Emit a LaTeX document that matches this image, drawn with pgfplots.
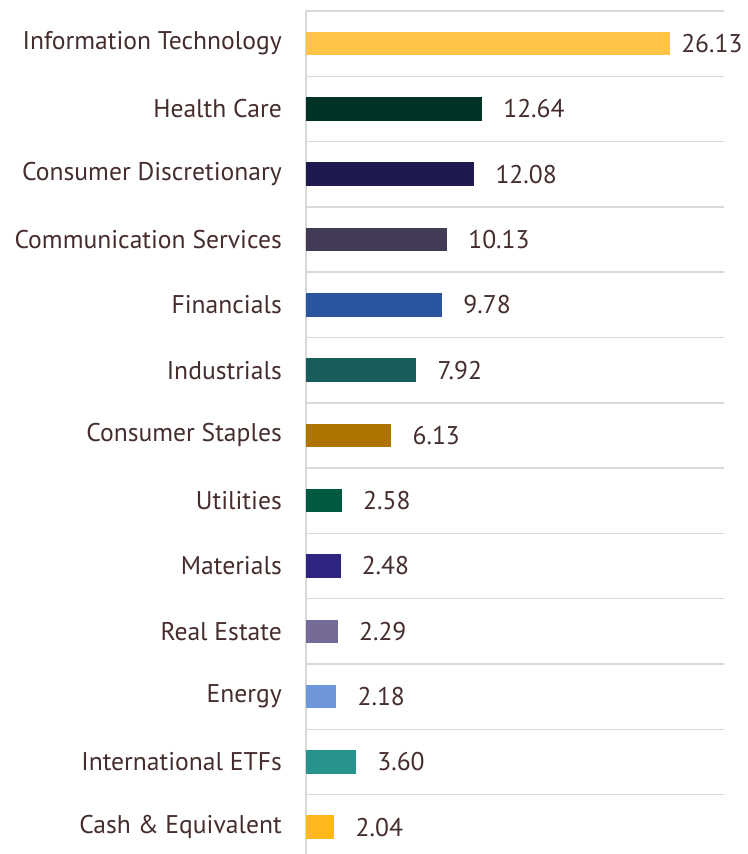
\documentclass[border=0pt]{standalone}
\usepackage{fontspec}
\setmainfont{PT Sans}
\usepackage{pgfplots}
\pgfplotsset{compat=1.18}

\definecolor{txt}{HTML}{462D2D}
\definecolor{gridgray}{HTML}{D9D9D9}
\definecolor{cIT}{HTML}{FFC447}
\definecolor{cHC}{HTML}{003327}
\definecolor{cCD}{HTML}{1E1A4D}
\definecolor{cCS}{HTML}{433A55}
\definecolor{cFin}{HTML}{2B559E}
\definecolor{cInd}{HTML}{1A5C5A}
\definecolor{cCSt}{HTML}{AD7400}
\definecolor{cUt}{HTML}{005941}
\definecolor{cMat}{HTML}{2E2580}
\definecolor{cRE}{HTML}{766A96}
\definecolor{cEn}{HTML}{6D96DB}
\definecolor{cETF}{HTML}{26948D}
\definecolor{cCash}{HTML}{FFB81C}

\newcommand{\lblfont}{\fontsize{25.6}{30}\selectfont}

\pgfplotsset{
  sectorbar/.style={
    fill=#1, draw=none,
    nodes near coords={\pgfmathprintnumber[fixed,zerofill,precision=2,assume math mode=true]{\pgfplotspointmeta}},
    nodes near coords style={anchor=west, inner sep=0pt, xshift=21pt, font=\lblfont, text=txt},
  },
}

\begin{document}
\begin{tikzpicture}
\begin{axis}[
  scale only axis,
  width=418pt, height=843pt,
  xbar, bar width=23.5pt, bar shift=0pt,
  xmin=0, xmax=30,
  ymin=-0.41, ymax=12.5,
  axis x line=none,
  axis y line*=left,
  y axis line style={draw=gridgray, line width=2pt, -},
  point meta=x,
  ytick={0,...,12},
  yticklabels={Cash \& Equivalent, International ETFs, Energy, Real Estate, Materials, Utilities, Consumer Staples, Industrials, Financials, Communication Services, Consumer Discretionary, Health Care, Information Technology},
  y tick label style={font=\lblfont, text=txt, inner sep=0pt, xshift=-24pt},
  major tick length=0pt, minor tick length=0pt,
  minor ytick={0.5,1.5,...,12.5},
  yminorgrids=true,
  minor grid style={draw=gridgray, line width=1.5pt},
]
\addplot[sectorbar=cIT, nodes near coords style={xshift=-10pt}] coordinates {(26.13,12)};
\addplot[sectorbar=cHC]   coordinates {(12.64,11)};
\addplot[sectorbar=cCD]   coordinates {(12.08,10)};
\addplot[sectorbar=cCS]   coordinates {(10.13,9)};
\addplot[sectorbar=cFin]  coordinates {(9.78,8)};
\addplot[sectorbar=cInd]  coordinates {(7.92,7)};
\addplot[sectorbar=cCSt]  coordinates {(6.13,6)};
\addplot[sectorbar=cUt]   coordinates {(2.58,5)};
\addplot[sectorbar=cMat]  coordinates {(2.48,4)};
\addplot[sectorbar=cRE]   coordinates {(2.29,3)};
\addplot[sectorbar=cEn]   coordinates {(2.18,2)};
\addplot[sectorbar=cETF]  coordinates {(3.60,1)};
\addplot[sectorbar=cCash] coordinates {(2.04,0)};
\end{axis}
\pgfresetboundingbox
\useasboundingbox (-306pt,0pt) rectangle (441pt,854pt);
\end{tikzpicture}
\end{document}
